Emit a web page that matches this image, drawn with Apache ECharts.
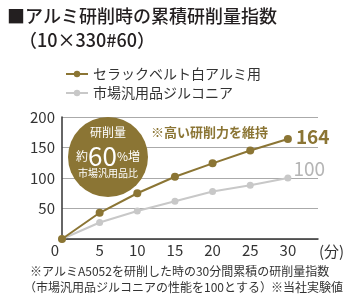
<!DOCTYPE html>
<html>
<head>
<meta charset="utf-8">
<script src="https://cdn.jsdelivr.net/npm/echarts@6/dist/echarts.min.js"></script>
<style>
  html, body { margin: 0; padding: 0; background: #fff; }
  #main { width: 347px; height: 294px; }
</style>
</head>
<body>
<div id="main"></div>
<script>
// 経過時間（分）
const minutes = [0, 5, 10, 15, 20, 25, 30];
// セラックベルト白アルミ用
const shellac = [0, 43, 75, 102, 124, 145, 164];
// 市場汎用品ジルコニア
const zirconia = [0, 27, 46, 62, 78, 88, 100];
const seriesNames = ['セラックベルト白アルミ用', '市場汎用品ジルコニア'];

const GOLD = '#8b7534';
const GRAY = '#c8c8c8';
const FONT = '"Noto Sans CJK JP", "Noto Sans", sans-serif';

const myChart = echarts.init(document.getElementById('main'));

const lastLabel = (color, weight, offset) => ({
  show: true,
  position: 'right',
  distance: 5,
  offset: offset,
  color: color,
  fontSize: 19,
  fontWeight: weight,
  fontFamily: FONT,
  formatter: p => (p.dataIndex === minutes.length - 1 ? p.value[1] : '')
});

const option = {
  animation: false,
  textStyle: { fontFamily: FONT },
  grid: { left: 62, right: 29, top: 117, bottom: 55, outerBoundsMode: 'none' },
  legend: {
    orient: 'vertical',
    left: 60,
    top: 62,
    itemWidth: 22,
    itemHeight: 8,
    itemGap: 5,
    textStyle: { fontSize: 14, color: '#333', fontFamily: FONT },
    data: seriesNames
  },
  xAxis: {
    type: 'value',
    min: 0,
    max: 34,
    interval: 5,
    name: '(分)',
    nameLocation: 'end',
    nameGap: 1,
    nameTextStyle: { fontSize: 15, color: '#333', verticalAlign: 'top', padding: [5, 0, 0, 0] },
    axisLine: { lineStyle: { color: '#333', width: 1.5 } },
    axisTick: { show: false },
    splitLine: { show: false },
    axisLabel: {
      fontSize: 15,
      color: '#333',
      margin: 4,
      formatter: v => (v === 0 ? '{z|0}' : v % 5 === 0 ? v : ''),
      rich: { z: { fontSize: 15, color: '#333', padding: [0, 14, 0, 0] } }
    }
  },
  yAxis: {
    type: 'value',
    min: 0,
    max: 200,
    interval: 50,
    axisLine: { show: true, lineStyle: { color: '#333', width: 1.5 } },
    axisTick: { show: false },
    splitLine: { lineStyle: { color: '#aaa', width: 1 } },
    axisLabel: {
      fontSize: 15,
      color: '#333',
      margin: 7,
      formatter: v => (v === 0 ? '' : v)
    }
  },
  graphic: [
    { type: 'text', left: 7, top: 7, style: { text: '■アルミ研削時の累積研削量指数', fontSize: 18, fontWeight: 500, fill: '#231f20', fontFamily: FONT } },
    { type: 'text', left: 19, top: 31, style: { text: '（10×330#60）', fontSize: 18, fontWeight: 500, fill: '#231f20', fontFamily: FONT } },
    { type: 'circle', z: 10, shape: { cx: 108, cy: 157, r: 40 }, style: { fill: GOLD } },
    { type: 'text', z: 11, x: 108, y: 132, style: { text: '研削量', fontSize: 12, fill: '#fff', align: 'center', verticalAlign: 'middle', fontFamily: FONT } },
    {
      type: 'text', z: 11, x: 108, y: 156,
      style: {
        text: '{a|約}{b|60}{a|%増}',
        align: 'center', verticalAlign: 'middle',
        rich: {
          a: { fontSize: 12, fill: '#fff', fontFamily: FONT },
          b: { fontSize: 26, fill: '#fff', fontFamily: FONT }
        }
      }
    },
    { type: 'text', z: 11, x: 108, y: 173, style: { text: '市場汎用品比', fontSize: 10, fill: '#fff', align: 'center', verticalAlign: 'middle', fontFamily: FONT } },
    { type: 'text', x: 151, y: 132, style: { text: '※高い研削力を維持', fontSize: 13, fontWeight: 'bold', fill: GOLD, verticalAlign: 'middle', fontFamily: FONT } },
    { type: 'text', left: 30, top: 265, style: { text: '※アルミA5052を研削した時の30分間累積の研削量指数', fontSize: 12, fill: '#333', fontFamily: FONT } },
    { type: 'text', left: 24, top: 281, style: { text: '（市場汎用品ジルコニアの性能を100とする）', fontSize: 12, fill: '#333', fontFamily: FONT } },
    { type: 'text', right: 4, top: 281, style: { text: '※当社実験値', fontSize: 12, fill: '#333', fontFamily: FONT } }
  ],
  series: [
    {
      name: seriesNames[1],
      type: 'line',
      data: minutes.map((m, i) => [m, zirconia[i]]),
      symbol: 'circle',
      symbolSize: 7,
      lineStyle: { color: GRAY, width: 2 },
      itemStyle: { color: GRAY },
      label: lastLabel('#b5b5b5', 'normal', [-3, -9]),
      z: 3
    },
    {
      name: seriesNames[0],
      type: 'line',
      data: minutes.map((m, i) => [m, shellac[i]]),
      symbol: 'circle',
      symbolSize: 8,
      lineStyle: { color: GOLD, width: 2 },
      itemStyle: { color: GOLD },
      label: lastLabel(GOLD, 'bold', [-1, -2]),
      z: 4
    }
  ]
};
myChart.setOption(option);
</script>
</body>
</html>
